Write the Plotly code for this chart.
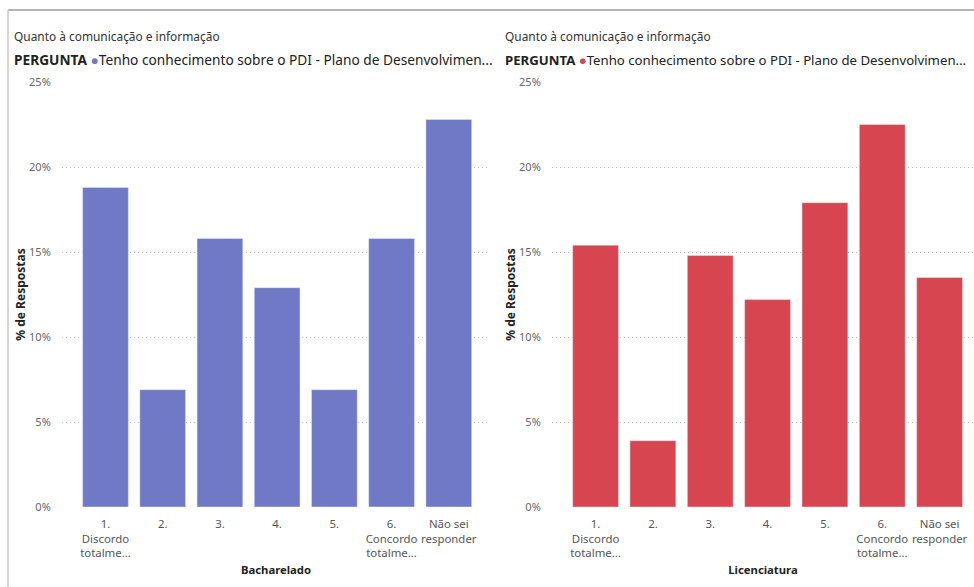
import plotly.graph_objects as go

# dados
categorias = ["1.<br>Discordo<br>totalme...", "2.", "3.", "4.", "5.",
              "6.<br>Concordo<br>totalme...", "Não sei<br>responder"]
bacharelado = [18.8, 6.9, 15.8, 12.9, 6.9, 15.8, 22.8]
licenciatura = [15.4, 3.9, 14.8, 12.2, 17.9, 22.5, 13.5]
titulo = "Quanto à comunicação e informação"
pergunta = "Tenho conhecimento sobre o PDI - Plano de Desenvolvimen..."
y_ticks = [0, 5, 10, 15, 20, 25]

cor_bach = "#7079C5"
cor_lic = "#D64550"
fonte = "Noto Sans"

W, H = 974, 587


def px(x):
    return x / W


def py(y):
    return 1 - y / H


fig = go.Figure()
fig.add_trace(go.Bar(x=categorias, y=bacharelado, marker_color=cor_bach,
                     xaxis="x", yaxis="y", showlegend=False))
fig.add_trace(go.Bar(x=categorias, y=licenciatura, marker_color=cor_lic,
                     xaxis="x2", yaxis="y2", showlegend=False))

eixo_x = dict(type="category", range=[-0.76, 6.72], showgrid=False,
              zeroline=False, showline=False, ticks="outside", ticklen=6,
              tickcolor="rgba(0,0,0,0)", automargin=False,
              tickfont=dict(family=fonte, size=11.4, color="#555"))
eixo_y = dict(range=[0, 25], tickvals=y_ticks,
              ticktext=[f"{v}%" for v in y_ticks],
              showgrid=True, gridcolor="#c4c4c4", griddash="1px,3px",
              gridwidth=1,
              zeroline=False, showline=False, ticks="outside", ticklen=8,
              tickcolor="rgba(0,0,0,0)", automargin=False,
              tickfont=dict(family=fonte, size=11, color="#666"),
              title=dict(text="<b>% de Respostas</b>",
                         font=dict(family=fonte, size=12, color="#252423"),
                         standoff=0))

titulo_x = dict(standoff=6, font=dict(family=fonte, size=11.3, color="#252423"))

fig.update_layout(
    width=W, height=H, margin=dict(l=0, r=0, t=0, b=0),
    paper_bgcolor="white", plot_bgcolor="white",
    bargap=0.2,
    xaxis=dict(eixo_x, domain=[px(62), px(490)], anchor="y",
               title=dict(titulo_x, text="<b>Bacharelado</b>")),
    yaxis=dict(eixo_y, domain=[py(507), py(82)], anchor="x"),
    xaxis2=dict(eixo_x, domain=[px(552), 1], anchor="y2",
                range=[-0.76, 6.6],
                title=dict(titulo_x, text="<b>Licenciatura</b>")),
    yaxis2=dict(eixo_y, domain=[py(507), py(82)], anchor="x2"),
)

# moldura
fig.add_shape(type="line", xref="paper", yref="paper",
              x0=px(8), x1=1, y0=py(10), y1=py(10),
              line=dict(color="#b4b4b4", width=2))
fig.add_shape(type="line", xref="paper", yref="paper",
              x0=px(8), x1=px(8), y0=py(10), y1=0,
              line=dict(color="#c8c8c8", width=1.5))

# titulos e legendas
for x0, cor, tam in [(12, cor_bach, 13.7), (503, cor_lic, 13.2)]:
    fig.add_annotation(xref="paper", yref="paper", x=px(x0), y=py(36),
                       xanchor="left", yanchor="middle", showarrow=False,
                       text=titulo,
                       font=dict(family=fonte, size=11.9, color="#333"))
    fig.add_annotation(xref="paper", yref="paper", x=px(x0), y=py(60),
                       xanchor="left", yanchor="middle", showarrow=False,
                       text=f"<b>PERGUNTA</b> <span style='color:{cor}'>●</span>{pergunta}",
                       font=dict(family=fonte, size=tam, color="#222"))

fig.write_html("out.html", config={"displayModeBar": False},
               post_script="document.body.style.margin='0';")
